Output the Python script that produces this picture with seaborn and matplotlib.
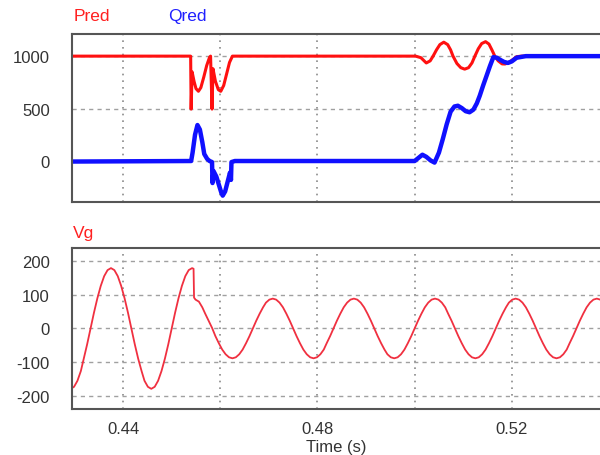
import matplotlib
matplotlib.use("Agg")
import matplotlib.pyplot as plt
import seaborn as sns

# --- data ---
# active power Pred
t_pred = [0.4295, 0.4539, 0.4540, 0.4542, 0.4546, 0.4550, 0.4555, 0.4560, 0.4566,
          0.4572, 0.4578, 0.4580, 0.4583, 0.4585, 0.4590, 0.4596, 0.4601, 0.4607,
          0.4613, 0.4619, 0.4625,
          0.5002, 0.5013, 0.5024, 0.5032, 0.5038, 0.5045, 0.5052, 0.5060, 0.5068,
          0.5074, 0.5079, 0.5087, 0.5095, 0.5103, 0.5111, 0.5118, 0.5124, 0.5131,
          0.5138, 0.5146, 0.5153, 0.5159, 0.5165, 0.5172, 0.5180, 0.5186, 0.5192,
          0.5200, 0.5210, 0.5220, 0.5385]
pred = [1000, 1000, 495, 850, 760, 690, 665, 700, 800,
        910, 990, 1000, 495, 880, 760, 680, 665, 720,
        830, 940, 1000,
        1000, 985, 935, 955, 1000, 1060, 1110, 1133, 1110,
        1060, 1000, 930, 890, 876, 890, 935, 1000, 1070,
        1120, 1138, 1115, 1060, 1000, 955, 926, 925, 935,
        960, 995, 1000, 1000]

# reactive power Qred
t_qred = [0.4295, 0.4540, 0.4543, 0.4548, 0.4553, 0.4558, 0.4563, 0.4567, 0.4573,
          0.4578, 0.4583, 0.4584, 0.4586, 0.4592, 0.4598, 0.4602, 0.4605, 0.4610,
          0.4615, 0.4620, 0.4622, 0.4623, 0.4630,
          0.5000, 0.5008, 0.5016, 0.5024, 0.5033, 0.5041, 0.5050, 0.5058, 0.5066,
          0.5074, 0.5082, 0.5089, 0.5097, 0.5105, 0.5113, 0.5121, 0.5128, 0.5134,
          0.5141, 0.5148, 0.5155, 0.5162, 0.5169, 0.5176, 0.5184, 0.5192, 0.5200,
          0.5210, 0.5229, 0.5385]
qred = [-5, 0, 80, 250, 343, 300, 180, 67, 20,
        0, -10, -210, -95, -150, -240, -300, -330, -290,
        -200, -110, -180, -10, 0,
        0, 30, 60, 40, 5, -15, 80, 210, 350,
        470, 520, 527, 505, 475, 465, 490, 550, 622,
        720, 812, 905, 990, 985, 965, 945, 935, 950,
        985, 1000, 1000]

# grid voltage Vg (sampled every ~0.7 ms along the trace)
t_vg = [0.4292, 0.4299, 0.4306, 0.4313, 0.4319, 0.4326, 0.4333, 0.4340, 0.4347,
        0.4354, 0.4361, 0.4368, 0.4375, 0.4382, 0.4389, 0.4396, 0.4403, 0.4410,
        0.4417, 0.4424, 0.4431, 0.4438, 0.4444, 0.4451, 0.4458, 0.4465, 0.4472,
        0.4479, 0.4486, 0.4493, 0.4500, 0.4507, 0.4514, 0.4521, 0.4528, 0.4535,
        0.4542, 0.4545, 0.4546,
        0.4549, 0.4556, 0.4563, 0.4569, 0.4576, 0.4583, 0.4590, 0.4597, 0.4604,
        0.4611, 0.4618, 0.4625, 0.4632, 0.4639, 0.4646, 0.4653, 0.4660, 0.4667,
        0.4674, 0.4681, 0.4688, 0.4694, 0.4701, 0.4708,
        0.4715, 0.4722, 0.4729, 0.4736, 0.4743, 0.4750, 0.4757, 0.4764, 0.4771,
        0.4778, 0.4785, 0.4792, 0.4799, 0.4806, 0.4813, 0.4819, 0.4826, 0.4833,
        0.4840, 0.4847, 0.4854, 0.4861, 0.4868, 0.4875,
        0.4882, 0.4889, 0.4896, 0.4903, 0.4910, 0.4917, 0.4924, 0.4931, 0.4938,
        0.4944, 0.4951, 0.4958, 0.4965, 0.4972, 0.4979, 0.4986, 0.4993, 0.5000,
        0.5007, 0.5014, 0.5021, 0.5028, 0.5035, 0.5042,
        0.5049, 0.5056, 0.5063, 0.5069, 0.5076, 0.5083, 0.5090, 0.5097, 0.5104,
        0.5111, 0.5118, 0.5125, 0.5132, 0.5139, 0.5146, 0.5153, 0.5160, 0.5167,
        0.5174, 0.5181, 0.5188, 0.5194, 0.5201, 0.5208,
        0.5215, 0.5222, 0.5229, 0.5236, 0.5243, 0.5250, 0.5257, 0.5264, 0.5271,
        0.5278, 0.5285, 0.5292, 0.5299, 0.5306, 0.5313, 0.5319, 0.5326, 0.5333,
        0.5340, 0.5347, 0.5354, 0.5361, 0.5368, 0.5375,
        0.5382, 0.5389]
vg = [-180, -174, -156, -127, -90, -47, 0, 47, 90,
      127, 156, 174, 180, 174, 156, 127, 90, 47,
      0, -47, -90, -127, -156, -174, -180, -174, -156,
      -127, -90, -47, 0, 47, 90, 127, 156, 174,
      180, 178, 92,
      86, 80, 63, 44, 23, 2, -23, -44, -63,
      -77, -86, -89, -86, -77, -63, -44, -23, 0,
      23, 44, 63, 77, 86, 89,
      86, 77, 63, 44, 23, 0, -23, -44, -63,
      -77, -86, -89, -86, -77, -63, -44, -23, 0,
      23, 44, 63, 77, 86, 89,
      86, 77, 63, 44, 23, 0, -23, -44, -63,
      -77, -86, -89, -86, -77, -63, -44, -23, 0,
      23, 44, 63, 77, 86, 89,
      86, 77, 63, 44, 23, 0, -23, -44, -63,
      -77, -86, -89, -86, -77, -63, -44, -23, 0,
      23, 44, 63, 77, 86, 89,
      86, 77, 63, 44, 23, 0, -23, -44, -63,
      -77, -86, -89, -86, -77, -63, -44, -23, 0,
      23, 44, 63, 77, 86, 89,
      86, 77]

x_major = [0.44, 0.48, 0.52]
x_minor = [0.46, 0.50]
y_top = [0, 500, 1000]
y_bot = [-200, -100, 0, 100, 200]

sns.set_theme(style="white")
plt.rcParams['font.family'] = ['Liberation Sans', 'DejaVu Sans']
plt.rcParams['axes.unicode_minus'] = False

fig = plt.figure(figsize=(6, 4.56), dpi=100)
ax1 = fig.add_axes([0.12, 0.555, 0.882, 0.368])
ax2 = fig.add_axes([0.12, 0.101, 0.882, 0.353])

sns.lineplot(x=t_pred, y=pred, ax=ax1, color='#ff1010', lw=2.2,
             estimator=None, sort=False)
sns.lineplot(x=t_qred, y=qred, ax=ax1, color='#1010ff', lw=3.2,
             estimator=None, sort=False)
sns.lineplot(x=t_vg, y=vg, ax=ax2, color='#f03040', lw=1.3,
             estimator=None, sort=False)

ax1.set_ylim(-390, 1210)
ax2.set_ylim(-240, 240)
for ax, yt in ((ax1, y_top), (ax2, y_bot)):
    ax.set_xlim(0.42948, 0.5384)
    ax.set_xticks(x_major)
    ax.set_xticks(x_minor, minor=True)
    ax.set_yticks(yt)
    ax.grid(axis='x', which='both', linestyle=(0, (1, 3)), color='#8a8a8a', lw=1.2)
    ax.grid(axis='y', linestyle=(0, (3, 3)), color='#a0a0a0', lw=1.0)
    ax.set_axisbelow(True)
    ax.tick_params(which='both', length=0, labelsize=12, labelcolor='#333333')
    ax.tick_params(axis='y', pad=16)
    ax.tick_params(axis='x', pad=9)
    for s in ax.spines.values():
        s.set_color('#555555')
        s.set_linewidth(1.5)
    ax.set_ylabel('')

ax1.tick_params(labelbottom=False)
ax2.set_xticklabels(['0.44', '0.48', '0.52'])
ax2.set_xlabel('Time (s)', fontsize=12, color='#333333', labelpad=2)

fig.text(0.122, 0.963, 'Pred', color='#ff2020', fontsize=12.5, va='center')
fig.text(0.280, 0.963, 'Qred', color='#2020ff', fontsize=12.5, va='center')
fig.text(0.122, 0.487, 'Vg', color='#ff2020', fontsize=12.5, va='center')

fig.savefig('out.png', dpi=100)
